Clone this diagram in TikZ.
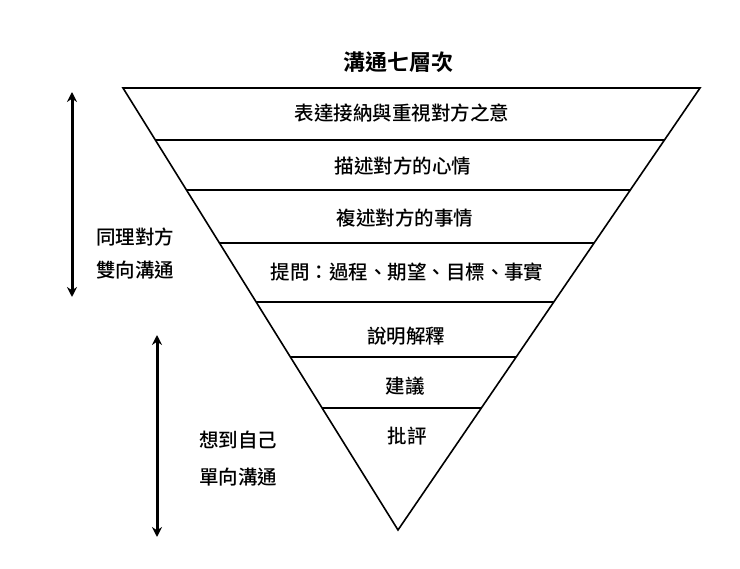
\documentclass[tikz,border=0pt]{standalone}
\usepackage{fontspec}
\setmainfont{Noto Sans CJK TC Medium}[BoldFont={Noto Sans CJK TC Bold}]
\usetikzlibrary{arrows.meta,calc}

\begin{document}
\begin{tikzpicture}[x=1pt,y=-1pt,
    label/.style={font=\fontsize{19.5}{22}\selectfont},
    side/.style={font=\fontsize{19.5}{22}\selectfont, align=left}]
      \useasboundingbox (0,0) rectangle (740,569);

      \coordinate (tl) at (123,88);
      \coordinate (tr) at (700,88);
      \coordinate (ap) at (398,530);
      \draw[line width=1.6pt, line join=miter] (tl) -- (tr) -- (ap) -- cycle;

      % layer lines
      \foreach \t in {0.118,0.231,0.351,0.484,0.609,0.724}
        \draw[line width=1.6pt] ($(tl)!\t!(ap)$) -- ($(tr)!\t!(ap)$);

      \node[label, font=\fontsize{22}{24}\selectfont\bfseries] (title) at (398,62) {溝通七層次};
      \node[label] (l1) at (402,113) {表達接納與重視對方之意};
      \node[label] (l2) at (403,166) {描述對方的心情};
      \node[label] (l3) at (405,218) {複述對方的事情};
      \node[label] (l4) at (407,272) {提問：過程、期望、目標、事實};
      \node[label] (l5) at (406,336) {說明解釋};
      \node[label] (l6) at (405,386) {建議};
      \node[label] (l7) at (407,436) {批評};

      % side arrows
      \coordinate (a1s) at (72,92);
      \coordinate (a1e) at (72,297);
      \coordinate (a2s) at (157,335);
      \coordinate (a2e) at (157,537);
      \draw[line width=3pt, {Stealth[length=10pt,width=10pt]}-{Stealth[length=10pt,width=10pt]}] (a1s) -- (a1e);
      \draw[line width=3pt, {Stealth[length=10pt,width=10pt]}-{Stealth[length=10pt,width=10pt]}] (a2s) -- (a2e);

      \node[side] (s1) at (135,237) {同理對方};
      \node[side] (s2) at (135,270) {雙向溝通};
      \node[side] (s3) at (238,440) {想到自己};
      \node[side] (s4) at (238,477) {單向溝通};
\end{tikzpicture}
\end{document}
